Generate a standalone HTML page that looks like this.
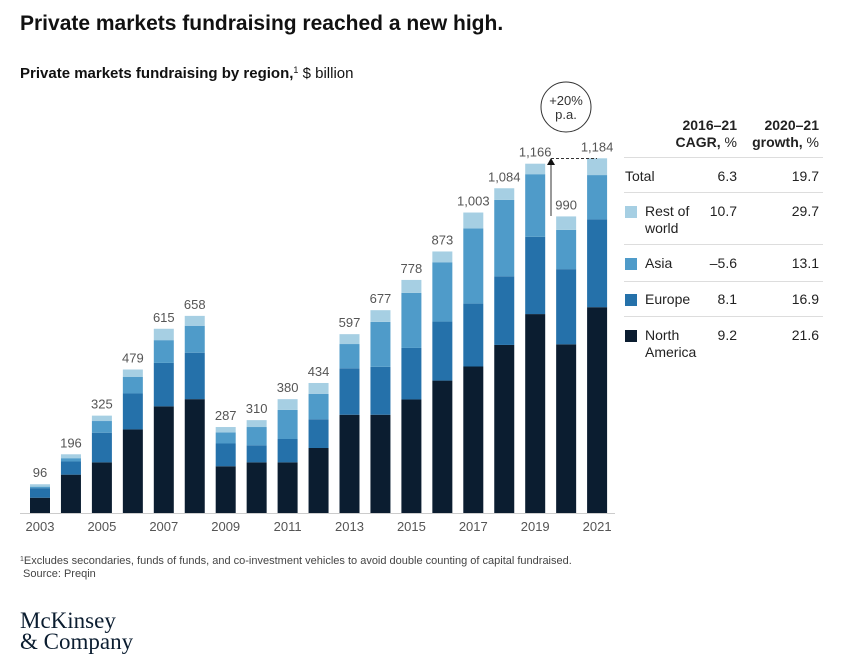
<!DOCTYPE html>
<html><head><meta charset="utf-8"><style>
body{margin:0;background:#fff;width:841px;height:668px;overflow:hidden;font-family:"Liberation Sans",sans-serif;}
svg{position:absolute;left:0;top:0}
</style></head><body>
<svg width="841" height="668" id="svg">
<text x="20" y="30" font-size="21" font-weight="bold" fill="#111">Private markets fundraising reached a new high.</text>
<text x="20" y="78" font-size="15" fill="#111"><tspan font-weight="bold">Private markets fundraising by region,</tspan><tspan font-size="9" dy="-5">1</tspan><tspan dy="5"> $ billion</tspan></text>
<line x1="20" y1="513.5" x2="615" y2="513.5" stroke="#ccc"/>
<g id="bars"></g>
<g id="annot">
<circle cx="566" cy="107" r="25" fill="none" stroke="#333"/>
<text x="566" y="105" font-size="13" text-anchor="middle" fill="#333">+20%</text>
<text x="566" y="119" font-size="13" text-anchor="middle" fill="#333">p.a.</text>
<polyline points="551,216 551,162" fill="none" stroke="#333"/>
<polygon points="547,165 555,165 551,158" fill="#111"/>
<line x1="551" y1="158.5" x2="597" y2="158.5" stroke="#333" stroke-dasharray="3,2"/>
</g>
<g id="table" font-size="14" fill="#222">
<text x="737" y="130" text-anchor="end" font-weight="bold">2016–21</text>
<text x="737" y="147" text-anchor="end"><tspan font-weight="bold">CAGR,</tspan> %</text>
<text x="819" y="130" text-anchor="end" font-weight="bold">2020–21</text>
<text x="819" y="147" text-anchor="end"><tspan font-weight="bold">growth,</tspan> %</text>
<g stroke="#ddd"><line x1="624" y1="157.5" x2="823" y2="157.5"/><line x1="624" y1="192.5" x2="823" y2="192.5"/><line x1="624" y1="244.5" x2="823" y2="244.5"/><line x1="624" y1="281.5" x2="823" y2="281.5"/><line x1="624" y1="316.5" x2="823" y2="316.5"/></g>
<text x="625" y="181">Total</text><text x="737" y="181" text-anchor="end">6.3</text><text x="819" y="181" text-anchor="end">19.7</text>
<rect x="625" y="206" width="12" height="12" fill="#a6cfe3"/><text x="645" y="216">Rest of</text><text x="645" y="233">world</text><text x="737" y="216" text-anchor="end">10.7</text><text x="819" y="216" text-anchor="end">29.7</text>
<rect x="625" y="258" width="12" height="12" fill="#4f9bc9"/><text x="645" y="268">Asia</text><text x="737" y="268" text-anchor="end">–5.6</text><text x="819" y="268" text-anchor="end">13.1</text>
<rect x="625" y="294" width="12" height="12" fill="#2571aa"/><text x="645" y="304">Europe</text><text x="737" y="304" text-anchor="end">8.1</text><text x="819" y="304" text-anchor="end">16.9</text>
<rect x="625" y="330" width="12" height="12" fill="#0b1d30"/><text x="645" y="340">North</text><text x="645" y="357">America</text><text x="737" y="340" text-anchor="end">9.2</text><text x="819" y="340" text-anchor="end">21.6</text>
</g>
<text x="20" y="564" font-size="11" fill="#444"><tspan font-size="7" dy="-3">1</tspan><tspan dy="3">Excludes secondaries, funds of funds, and co-investment vehicles to avoid double counting of capital fundraised.</tspan></text>
<text x="23" y="577" font-size="11" fill="#444">Source: Preqin</text>
<text x="20" y="628" font-size="23" font-family="Liberation Serif,serif" fill="#0b1d30">McKinsey</text>
<text x="20" y="649" font-size="23" font-family="Liberation Serif,serif" fill="#0b1d30">&amp; Company</text>
</svg>
<script>
const years=[2003,2004,2005,2006,2007,2008,2009,2010,2011,2012,2013,2014,2015,2016,2017,2018,2019,2020,2021];
const totals=[96,196,325,479,615,658,287,310,380,434,597,677,778,873,1003,1084,1166,990,1184];
const northAmerica=[51,128,169,279,356,380,156,169,169,217,328,328,379,442,489,561,664,563,687];
const europe=[32,44,99,120,145,155,76,57,78,96,155,160,172,197,210,229,258,251,293];
const asia=[5,11,39,55,76,90,37,61,97,85,81,150,184,198,251,255,209,131,148];
const restOfWorld=[8,13,18,25,38,33,18,23,36,36,33,39,43,36,53,39,35,45,56];
const tickYears=[2003,2005,2007,2009,2011,2013,2015,2017,2019,2021];
const base=513,k=354.7/1184,x0=30,step=30.95,bw=20;
const yS=v=>v*k;
const xS=i=>x0+i*step;
const g=document.getElementById('bars');
const NS='http://www.w3.org/2000/svg';
const series=[[northAmerica,'#0b1d30','north-america'],[europe,'#2571aa','europe'],[asia,'#4f9bc9','asia'],[restOfWorld,'#a6cfe3','rest-of-world']];
years.forEach((yr,i)=>{
  let acc=0;
  series.forEach(([arr,col,nm])=>{
    const r=document.createElementNS(NS,'rect');
    const h=yS(arr[i]);
    r.setAttribute('x',xS(i));r.setAttribute('width',bw);
    r.setAttribute('y',base-yS(acc)-h);r.setAttribute('height',h);
    r.setAttribute('fill',col);
    
    
    g.appendChild(r);acc+=arr[i];
  });
  const t=document.createElementNS(NS,'text');
  t.setAttribute('x',xS(i)+bw/2);t.setAttribute('y',base-yS(totals[i])-7);
  t.setAttribute('text-anchor','middle');t.setAttribute('font-size','13');t.setAttribute('fill','#555');
  t.textContent=totals[i].toLocaleString('en-US');
  
  
  g.appendChild(t);
});
tickYears.forEach(yr=>{
  const i=years.indexOf(yr);
  const t=document.createElementNS(NS,'text');
  t.setAttribute('x',xS(i)+bw/2);t.setAttribute('y',531);
  t.setAttribute('text-anchor','middle');t.setAttribute('font-size','13');t.setAttribute('fill','#555');
  t.textContent=yr;
  
  
  g.appendChild(t);
});
</script>
</body></html>
